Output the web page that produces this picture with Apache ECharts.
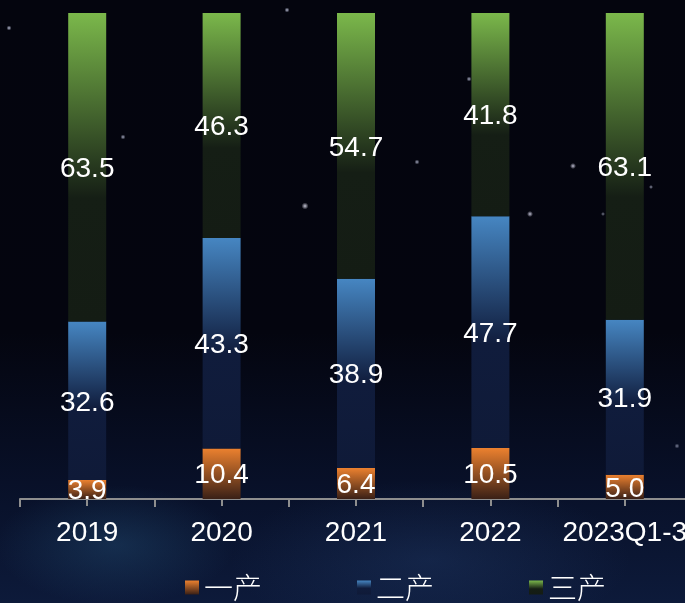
<!DOCTYPE html>
<html>
<head>
<meta charset="utf-8">
<script src="https://cdn.jsdelivr.net/npm/echarts@6/dist/echarts.min.js"></script>
<style>
html,body{margin:0;padding:0;width:685px;height:603px;overflow:hidden;}
#bg{position:absolute;left:0;top:0;width:685px;height:603px;
background:
 radial-gradient(circle at 9px 28px, rgba(200,205,230,0.9) 0, rgba(200,205,230,0) 2.5px),
 radial-gradient(circle at 287px 10px, rgba(200,205,230,0.9) 0, rgba(200,205,230,0) 2.5px),
 radial-gradient(circle at 123px 137px, rgba(200,205,230,0.8) 0, rgba(200,205,230,0) 2.5px),
 radial-gradient(circle at 305px 206px, rgba(220,220,235,0.9) 0, rgba(220,220,235,0) 3.5px),
 radial-gradient(circle at 469px 79px, rgba(200,205,230,0.8) 0, rgba(200,205,230,0) 2.5px),
 radial-gradient(circle at 417px 162px, rgba(200,205,230,0.8) 0, rgba(200,205,230,0) 2.5px),
 radial-gradient(circle at 573px 166px, rgba(210,210,230,0.9) 0, rgba(210,210,230,0) 3px),
 radial-gradient(circle at 530px 214px, rgba(210,210,230,0.9) 0, rgba(210,210,230,0) 3px),
 radial-gradient(circle at 651px 187px, rgba(200,205,230,0.7) 0, rgba(200,205,230,0) 2px),
 radial-gradient(circle at 603px 214px, rgba(200,205,230,0.6) 0, rgba(200,205,230,0) 2px),
 radial-gradient(circle at 677px 446px, rgba(200,205,230,0.6) 0, rgba(200,205,230,0) 2.5px),
 radial-gradient(ellipse 120px 60px at 115px 545px, rgba(40,90,130,0.35) 0, rgba(40,90,130,0) 100%),
 radial-gradient(ellipse 200px 80px at 430px 560px, rgba(40,70,120,0.30) 0, rgba(40,70,120,0) 100%),
 linear-gradient(to bottom, #04050e 0%, #04050f 55%, #081028 80%, #0d1a3a 100%);
}
#main{position:absolute;left:0;top:0;width:685px;height:603px;}
</style>
</head>
<body>
<div id="bg"></div>
<div id="main"></div>
<script>
var categories = ['2019', '2020', '2021', '2022', '2023Q1-3'];
var seriesNames = ['一产', '二产', '三产'];
var primary = [3.9, 10.4, 6.4, 10.5, 5.0];
var secondary = [32.6, 43.3, 38.9, 47.7, 31.9];
var tertiary = [63.5, 46.3, 54.7, 41.8, 63.1];

function grad(stops) {
  return new echarts.graphic.LinearGradient(0, 0, 0, 1, stops.map(function (s) {
    return { offset: s[0], color: s[1] };
  }));
}
var orangeGrad = grad([[0, '#ec812f'], [1, '#3a2016']]);
var blueGrad = grad([[0, '#4686c2'], [0.55, '#101c3c'], [1, '#0f1a38']]);
var greenGrad = grad([[0, '#7bb84b'], [0.6, '#151e15'], [1, '#141c14']]);

var labelStyle = {
  show: true,
  position: 'inside',
  offset: [0, 2],
  color: '#ffffff',
  fontSize: 28,
  fontFamily: 'Liberation Sans',
  formatter: function (p) { return p.value.toFixed(1); }
};

function makeSeries(name, data, color) {
  return {
    name: name,
    type: 'bar',
    stack: 'total',
    barWidth: 38,
    data: data,
    itemStyle: { color: color },
    label: labelStyle
  };
}

var chart = echarts.init(document.getElementById('main'), null, { renderer: 'canvas' });
chart.setOption({
  backgroundColor: 'transparent',
  animation: false,
  legend: {
    data: seriesNames,
    icon: 'rect',
    left: 185,
    top: 573,
    padding: 0,
    itemWidth: 14,
    itemHeight: 14,
    itemGap: 95,
    textStyle: { color: '#ffffff', fontSize: 29, fontFamily: 'Noto Sans CJK SC', fontWeight: 300 }
  },
  grid: { left: 20, width: 672, top: 13, bottom: 104, containLabel: false, outerBoundsMode: 'none' },
  xAxis: [{
    type: 'category',
    data: categories,
    axisLine: { lineStyle: { color: '#8e8e8e', width: 2 } },
    axisTick: { show: true, length: 8, lineStyle: { color: '#8e8e8e', width: 2 } },
    axisLabel: { color: '#ffffff', fontSize: 28, fontFamily: 'Liberation Sans', margin: 20, interval: 0 }
  }, {
    type: 'category',
    data: categories,
    position: 'bottom',
    axisLine: { show: false },
    axisTick: { show: true, alignWithLabel: true, length: 7, lineStyle: { color: '#8e8e8e', width: 2 } },
    axisLabel: { show: false }
  }],
  yAxis: {
    type: 'value',
    min: 0,
    max: 100,
    show: false,
    splitLine: { show: false }
  },
  series: [
    makeSeries(seriesNames[0], primary, orangeGrad),
    makeSeries(seriesNames[1], secondary, blueGrad),
    makeSeries(seriesNames[2], tertiary, greenGrad)
  ]
});
</script>
</body>
</html>
